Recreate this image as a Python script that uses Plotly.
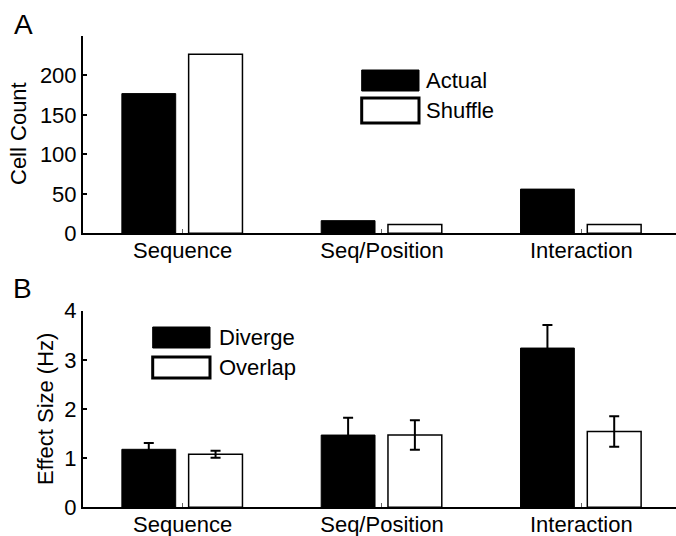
import plotly.graph_objects as go

# ---- data ----
categories = ["Sequence", "Seq/Position", "Interaction"]
actual_counts = [177, 16, 56]
shuffle_counts = [227, 11, 11]
diverge_effect = [1.18, 1.47, 3.24]
diverge_err = [0.13, 0.35, 0.47]
overlap_effect = [1.08, 1.47, 1.54]
overlap_err = [0.07, 0.30, 0.31]
count_ticks = [0, 50, 100, 150, 200]
effect_ticks = [0, 1, 2, 3, 4]

W, H = 676, 536
ML = 83
PW = W - ML
FONT = "Liberation Sans, Arial, Helvetica, sans-serif"
TS = 22


def px(x):
    return (x - ML) / PW


def py(y):
    return 1 - y / H


fig = go.Figure()

BW = 0.27
fig.add_trace(go.Bar(x=categories, y=actual_counts, name="Actual", width=BW, offset=-0.305,
                     marker=dict(color="black", line=dict(color="black", width=1)),
                     xaxis="x", yaxis="y", showlegend=False))
fig.add_trace(go.Bar(x=categories, y=shuffle_counts, name="Shuffle", width=BW, offset=0.03,
                     marker=dict(color="white", line=dict(color="black", width=1.5)),
                     xaxis="x", yaxis="y", showlegend=False))
fig.add_trace(go.Bar(x=categories, y=diverge_effect, name="Diverge", width=BW, offset=-0.305,
                     marker=dict(color="black", line=dict(color="black", width=1)),
                     error_y=dict(type="data", array=diverge_err, color="black", thickness=2, width=5),
                     xaxis="x2", yaxis="y2", showlegend=False))
fig.add_trace(go.Bar(x=categories, y=overlap_effect, name="Overlap", width=BW, offset=0.03,
                     marker=dict(color="white", line=dict(color="black", width=1.5)),
                     error_y=dict(type="data", array=overlap_err, color="black", thickness=2, width=5),
                     xaxis="x2", yaxis="y2", showlegend=False))

xcommon = dict(type="category", categoryorder="array", categoryarray=categories,
               range=[-0.5, 2.475], showline=True, linecolor="black", linewidth=2,
               ticks="inside", ticklen=4, tickwidth=1, tickcolor="#666",
               showgrid=False, zeroline=False, domain=[0, 1], ticklabelstandoff=-4,
               tickfont=dict(family=FONT, size=TS, color="black"), automargin=False)
ycommon = dict(showline=True, linecolor="black", linewidth=2, ticks="inside", ticklen=4,
               tickwidth=1.5, tickcolor="black", showgrid=False, zeroline=False,
               tickfont=dict(family=FONT, size=TS, color="black"), automargin=False)

fig.update_layout(
    width=W, height=H,
    margin=dict(l=ML, r=0, t=0, b=0),
    paper_bgcolor="white", plot_bgcolor="white",
    barmode="overlay",
    xaxis=dict(**xcommon, anchor="y"),
    yaxis=dict(**ycommon, anchor="x", domain=[py(233.3), py(36)], range=[0, 250],
               tickvals=count_ticks),
    xaxis2=dict(**xcommon, anchor="y2"),
    yaxis2=dict(**ycommon, anchor="x2", domain=[py(507.3), py(310.7)], range=[0, 4],
                tickvals=effect_ticks),
    showlegend=False,
)

shapes = []
annotations = []


def legend_block(x0, x1, y0a, y1a, y0b, y1b, labels, tx):
    shapes.append(dict(type="rect", xref="paper", yref="paper", x0=px(x0), x1=px(x1),
                       y0=py(y1a), y1=py(y0a), fillcolor="black", line=dict(color="black", width=1)))
    shapes.append(dict(type="rect", xref="paper", yref="paper", x0=px(x0), x1=px(x1),
                       y0=py(y1b), y1=py(y0b), fillcolor="white", line=dict(color="black", width=3)))
    for lab, yc in zip(labels, [(y0a + y1a) / 2, (y0b + y1b) / 2]):
        annotations.append(dict(text=lab, xref="paper", yref="paper", x=px(tx), y=py(yc),
                                xanchor="left", yanchor="middle", showarrow=False,
                                font=dict(family=FONT, size=TS, color="black")))


legend_block(361.7, 419, 70, 91, 98, 123, ["Actual", "Shuffle"], 424)
legend_block(152.7, 210, 327, 348, 357, 378, ["Diverge", "Overlap"], 217)

annotations.append(dict(text="Cell Count", xref="paper", yref="paper", x=px(18), y=py(134),
                        textangle=-90, xanchor="center", yanchor="middle", showarrow=False,
                        font=dict(family=FONT, size=TS, color="black")))
annotations.append(dict(text="Effect Size (Hz)", xref="paper", yref="paper", x=px(45), y=py(409),
                        textangle=-90, xanchor="center", yanchor="middle", showarrow=False,
                        font=dict(family=FONT, size=TS, color="black")))
annotations.append(dict(text="A", xref="paper", yref="paper", x=px(23), y=py(24),
                        xanchor="center", yanchor="middle", showarrow=False,
                        font=dict(family=FONT, size=28, color="black")))
annotations.append(dict(text="B", xref="paper", yref="paper", x=px(22), y=py(288),
                        xanchor="center", yanchor="middle", showarrow=False,
                        font=dict(family=FONT, size=28, color="black")))

fig.update_layout(shapes=shapes, annotations=annotations)
fig.write_html("out.html", config={"displayModeBar": False},
               post_script="document.body.style.margin='0';")
